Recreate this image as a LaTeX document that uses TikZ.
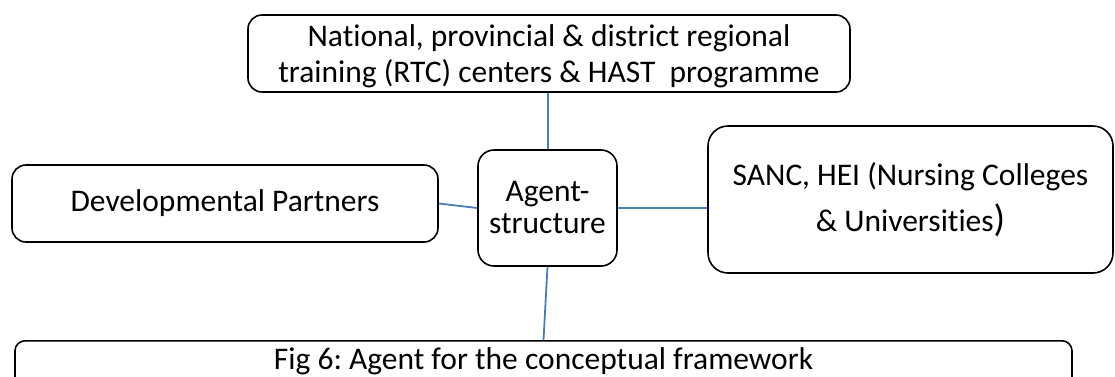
\documentclass[tikz,border=0pt]{standalone}
\usepackage{fontspec}
\setmainfont[RawFeature={-liga;-clig;-calt;-dlig;-rlig}]{Carlito}
\frenchspacing
\begin{document}
\begin{tikzpicture}[x=1pt,y=-1pt,
  boxstyle/.style={draw=black, line width=1.6pt, rounded corners=14pt, inner sep=0pt, align=center,
    font=\fontsize{31.5}{36}\selectfont},
  linkstyle/.style={draw=linkblue, line width=1.8pt}]
\definecolor{linkblue}{HTML}{4A7EBB}
\useasboundingbox (0,0) rectangle (1115,376);
\clip (0,0) rectangle (1115,376);
\node[boxstyle, minimum width=602pt, minimum height=77pt] (top) at (549,53.5)
  {\rule{0pt}{28pt}National, provincial \& district regional\\training (RTC) centers \& HAST\ \ programme};
\node[boxstyle, minimum width=426pt, minimum height=77pt] (left) at (225,203.5)
  {Developmental\ Partners};
\node[boxstyle, minimum width=139pt, minimum height=116pt, rounded corners=16pt,
  font=\fontsize{31.5}{32}\selectfont] (agent) at (547.5,208) {Agent-\\structure};
\node[boxstyle, minimum width=405pt, minimum height=147pt, rounded corners=20pt,
  font=\fontsize{31.5}{46}\selectfont] (right) at (910.5,199.5)
  {SANC, HEI (Nursing Colleges\\\& Universities{\fontsize{38}{46}\selectfont)}};
\node[boxstyle, minimum width=1057pt, minimum height=80pt, rounded corners=10pt,
  anchor=north, text depth=44pt] (cap) at (543.5,340)
  {Fig 6: Agent for the conceptual framework};
\draw[linkstyle] ([xshift=0.5pt]top.south -| agent.north) -- ([xshift=0.5pt]agent.north);
\draw[linkstyle] (left.east) -- (agent.west);
\draw[linkstyle] (agent.east) -- (agent.east -| right.west);
\draw[linkstyle] (agent.south) -- (cap.north);
\end{tikzpicture}
\end{document}
